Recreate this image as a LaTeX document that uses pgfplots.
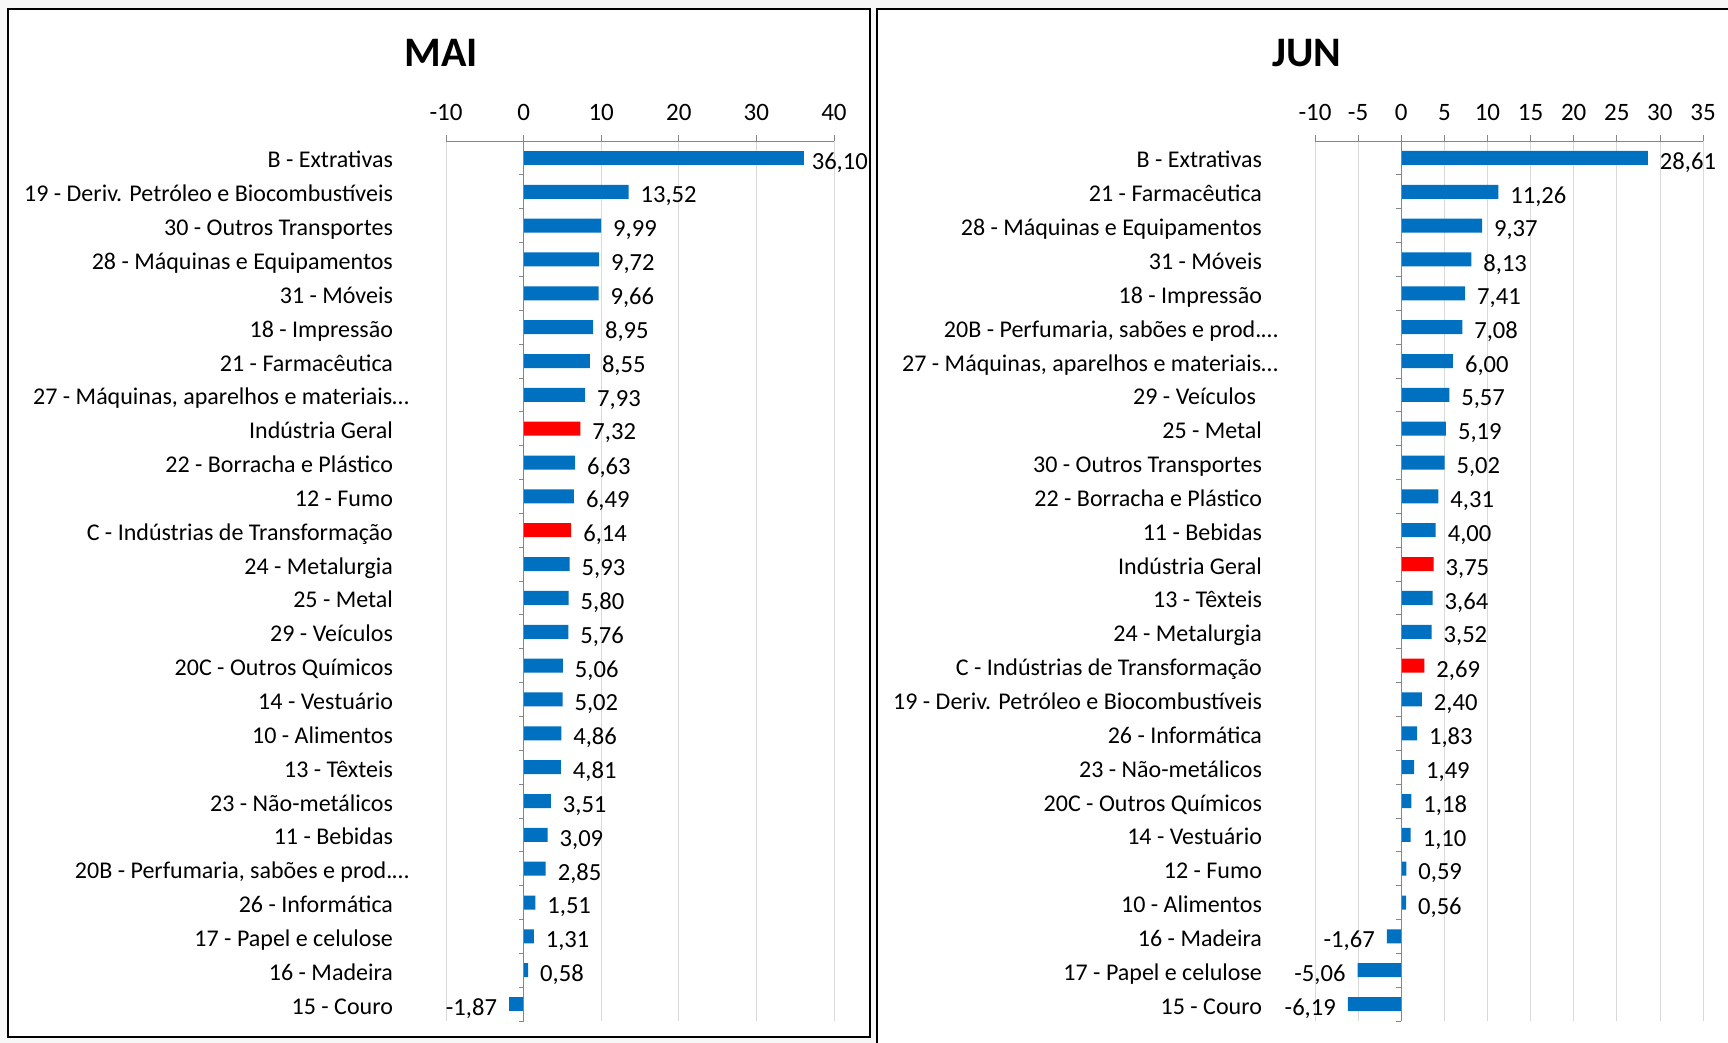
\documentclass[border=0pt]{standalone}
\usepackage{pgfplots}
\pgfplotsset{compat=1.18}
\usepackage{fontspec}
\setmainfont{Carlito}
\definecolor{barblue}{HTML}{0070C0}
\definecolor{barred}{HTML}{FF0000}
\definecolor{axgray}{HTML}{868686}
\definecolor{grgray}{HTML}{D9D9D9}
\newcommand{\lblfont}{\fontsize{12}{14}\selectfont}
\newcommand{\valfont}{\fontsize{12.3}{14}\selectfont}
\newcommand{\tckfont}{\fontsize{12.5}{14}\selectfont}
\pgfplotsset{
 panel/.style={
  scale only axis, width=194pt, height=440pt,
  xbar, bar width=7pt, bar shift=0pt,
  ymin=-0.5, ymax=25.5, enlargelimits=false, clip=false,
  axis x line=top, axis y line=left,
  axis line style={-},
  x axis line style={draw=axgray, thin},
  y axis line style={draw=none},
  tick align=outside,
  xtick style={draw=axgray, thin},
  major tick length=3pt,
  ytick style={draw=none},
  xmajorgrids, grid style={grgray, thin},
  ytick={0,...,25},
  xticklabel style={font=\tckfont, black, yshift=3.8pt},
  yticklabel style={font=\lblfont, black, xshift=-20pt, yshift=-2.3pt, text height=8pt, text depth=2.6pt},
  /pgf/number format/assume math mode=true,
  point meta=x,
  nodes near coords={\pgfmathprintnumber[fixed,fixed zerofill,precision=2,use comma]{\pgfplotspointmeta}},
  nodes near coords style={font=\valfont, black, yshift=-2.4pt},
 },
 posbar/.style={draw=none, fill=barblue, nodes near coords style={anchor=west, xshift=2.5pt}},
 negbar/.style={draw=none, fill=barblue, nodes near coords style={anchor=east, xshift=-2.5pt}},
 redbar/.style={draw=none, fill=barred, nodes near coords style={anchor=west, xshift=2.5pt}},
}
\begin{document}
\begin{tikzpicture}
\fill[gray!6] (0pt,0pt) rectangle (864pt,-521.5pt);
\useasboundingbox (0pt,0pt) rectangle (864pt,-521.5pt);
\filldraw[fill=white, draw=black, line width=0.8pt] (3.9pt,-4.4pt) rectangle (435pt,-518.5pt);
\filldraw[fill=white, draw=black, line width=0.8pt] (438.5pt,-4.4pt) rectangle (880pt,-540pt);
\node[font=\fontsize{21}{24}\selectfont\bfseries] at (220.5pt,-26.5pt) {MAI};
\node[font=\fontsize{21}{24}\selectfont\bfseries] at (653.5pt,-26.5pt) {JUN};

\begin{axis}[panel, at={(223pt,-70.5pt)}, anchor=north west,
  xmin=-10, xmax=40, xtick={-10,0,...,40},
  yticklabels={15 - Couro, 16 - Madeira, 17 - Papel e celulose, 26 - Informática,
   {20B - Perfumaria, sabões e prod.…\kern-8pt}, 11 - Bebidas, 23 - Não-metálicos, 13 - Têxteis,
   10 - Alimentos, 14 - Vestuário, 20C - Outros Químicos, 29 - Veículos, 25 - Metal,
   24 - Metalurgia, C - Indústrias de Transformação, 12 - Fumo, 22 - Borracha e Plástico,
   Indústria Geral, {27 - Máquinas, aparelhos e materiais…\kern-8pt}, 21 - Farmacêutica,
   18 - Impressão, 31 - Móveis, 28 - Máquinas e Equipamentos, 30 - Outros Transportes,
   19 - Deriv. Petróleo e Biocombustíveis, B - Extrativas}]
\addplot[posbar] coordinates {
 (0.58,1) (1.31,2) (1.51,3) (2.85,4) (3.09,5) (3.51,6) (4.81,7) (4.86,8) (5.02,9)
 (5.06,10) (5.76,11) (5.80,12) (5.93,13) (6.49,15) (6.63,16) (7.93,18) (8.55,19)
 (8.95,20) (9.66,21) (9.72,22) (9.99,23) (13.52,24)};
\addplot[draw=none, fill=barblue, nodes near coords style={anchor=west, xshift=0.5pt}] coordinates {(36.10,25)};
\addplot[negbar] coordinates {(-1.87,0)};
\addplot[redbar] coordinates {(6.14,14) (7.32,17)};
\draw[axgray] (axis cs:0,-0.5) -- (axis cs:0,25.5);
\pgfplotsinvokeforeach{-0.5,0.5,...,25.5}{\draw[axgray] (axis cs:0,#1) -- ++(-2.5pt,0pt);}
\end{axis}

\begin{axis}[panel, at={(657.5pt,-70.5pt)}, anchor=north west,
  xmin=-10, xmax=35, xtick={-10,-5,...,35},
  yticklabels={15 - Couro, 17 - Papel e celulose, 16 - Madeira, 10 - Alimentos, 12 - Fumo,
   14 - Vestuário, 20C - Outros Químicos, 23 - Não-metálicos, 26 - Informática,
   19 - Deriv. Petróleo e Biocombustíveis, C - Indústrias de Transformação, 24 - Metalurgia,
   13 - Têxteis, Indústria Geral, 11 - Bebidas, 22 - Borracha e Plástico, 30 - Outros Transportes,
   25 - Metal, 29 - Veículos\kern3pt, {27 - Máquinas, aparelhos e materiais…\kern-8pt},
   {20B - Perfumaria, sabões e prod.…\kern-8pt}, 18 - Impressão, 31 - Móveis,
   28 - Máquinas e Equipamentos, 21 - Farmacêutica, B - Extrativas}]
\addplot[posbar] coordinates {
 (0.56,3) (0.59,4) (1.10,5) (1.18,6) (1.49,7) (1.83,8) (2.40,9) (3.52,11) (3.64,12)
 (4.00,14) (4.31,15) (5.02,16) (5.19,17) (5.57,18) (6.00,19) (7.08,20) (7.41,21)
 (8.13,22) (9.37,23) (11.26,24) (28.61,25)};
\addplot[negbar] coordinates {(-6.19,0) (-5.06,1) (-1.67,2)};
\addplot[redbar] coordinates {(2.69,10) (3.75,13)};
\draw[axgray] (axis cs:0,-0.5) -- (axis cs:0,25.5);
\pgfplotsinvokeforeach{-0.5,0.5,...,25.5}{\draw[axgray] (axis cs:0,#1) -- ++(-2.5pt,0pt);}
\end{axis}
\end{tikzpicture}
\end{document}
